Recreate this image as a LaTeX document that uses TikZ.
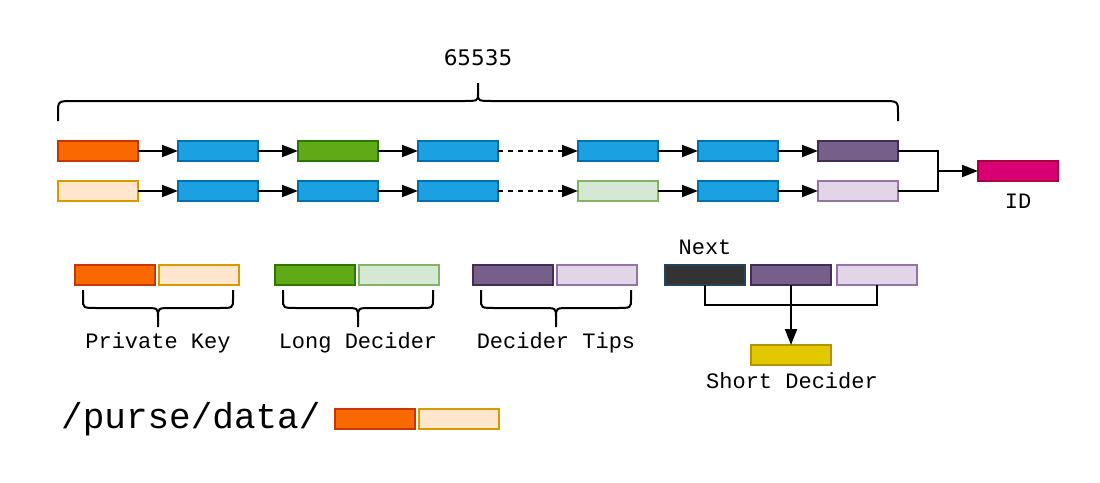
\documentclass[tikz,border=0pt]{standalone}
\usepackage{fontspec}
\setmainfont{Liberation Mono}
\newfontfamily\numfont{DejaVu Sans}
\usetikzlibrary{arrows.meta}
\definecolor{orF}{HTML}{FA6800}\definecolor{orS}{HTML}{C73500}
\definecolor{loF}{HTML}{FFE6CC}\definecolor{loS}{HTML}{D79B00}
\definecolor{blF}{HTML}{1BA1E2}\definecolor{blS}{HTML}{006EAF}
\definecolor{grF}{HTML}{60A917}\definecolor{grS}{HTML}{2D7600}
\definecolor{lgF}{HTML}{D5E8D4}\definecolor{lgS}{HTML}{82B366}
\definecolor{puF}{HTML}{76608A}\definecolor{puS}{HTML}{432D57}
\definecolor{lpF}{HTML}{E1D5E7}\definecolor{lpS}{HTML}{9673A6}
\definecolor{pkF}{HTML}{D80073}\definecolor{pkS}{HTML}{A50040}
\definecolor{dkF}{HTML}{333333}\definecolor{dkS}{HTML}{23445D}
\definecolor{yeF}{HTML}{E3C800}\definecolor{yeS}{HTML}{B09500}
\tikzset{
  cell/.style={draw, line width=2pt, minimum width=80pt, minimum height=20pt, inner sep=0pt, outer sep=0pt},
  orbox/.style={cell, fill=orF, draw=orS},
  lobox/.style={cell, fill=loF, draw=loS},
  blbox/.style={cell, fill=blF, draw=blS},
  grbox/.style={cell, fill=grF, draw=grS},
  lgbox/.style={cell, fill=lgF, draw=lgS},
  pubox/.style={cell, fill=puF, draw=puS},
  lpbox/.style={cell, fill=lpF, draw=lpS},
  pkbox/.style={cell, fill=pkF, draw=pkS},
  dkbox/.style={cell, fill=dkF, draw=dkS},
  yebox/.style={cell, fill=yeF, draw=yeS},
  conn/.style={line width=2pt},
  arr/.style={conn, -{Triangle[length=16pt,width=12pt]}},
  darr/.style={arr, dash pattern=on 5pt off 5pt},
  brace/.style={line width=2pt},
  lbl/.style={font=\fontsize{22}{24}\selectfont, inner sep=0pt},
}
\begin{document}
\begin{tikzpicture}[x=1pt,y=-1pt]
\useasboundingbox (0,0) rectangle (1100,482);
% top row
\node[orbox] (t1) at (98,151) {};
\node[blbox] (t2) at (218,151) {};
\node[grbox] (t3) at (338,151) {};
\node[blbox] (t4) at (458,151) {};
\node[blbox] (t5) at (618,151) {};
\node[blbox] (t6) at (738,151) {};
\node[pubox] (t7) at (858,151) {};
% bottom row
\node[lobox] (b1) at (98,191) {};
\node[blbox] (b2) at (218,191) {};
\node[blbox] (b3) at (338,191) {};
\node[blbox] (b4) at (458,191) {};
\node[lgbox] (b5) at (618,191) {};
\node[blbox] (b6) at (738,191) {};
\node[lpbox] (b7) at (858,191) {};
% ID
\node[pkbox] (id) at (1018,171) {};
\node[lbl] (idl) at (1018,201) {ID};
\coordinate (m) at (938,171);
% arrows
\draw[arr] (t1) -- (t2);
\draw[arr] (t2) -- (t3);
\draw[arr] (t3) -- (t4);
\draw[darr] (t4) -- (t5);
\draw[arr] (t5) -- (t6);
\draw[arr] (t6) -- (t7);
\draw[arr] (b1) -- (b2);
\draw[arr] (b2) -- (b3);
\draw[arr] (b3) -- (b4);
\draw[darr] (b4) -- (b5);
\draw[arr] (b5) -- (b6);
\draw[arr] (b6) -- (b7);
\draw[conn] (t7.east) -| (m);
\draw[conn] (b7.east) -| (m);
\draw[arr] (m) -- (id.west);
% top brace
\node[font=\numfont\fontsize{21.5}{24}\selectfont, inner sep=0pt] (cnt) at (478,58) {65535};
\draw[brace] (58,121) -- (58,113) .. controls (58,101) .. (74,101) -- (462,101)
  .. controls (478,101) .. (478,94) -- (478,83);
\draw[brace] (478,94) .. controls (478,101) .. (494,101) -- (882,101)
  .. controls (898,101) .. (898,113) -- (898,121);
% legend: private key
\node[orbox] (pk1) at (115,275) {};
\node[lobox] (pk2) at (199,275) {};
\node[grbox] (ld1) at (315,275) {};
\node[lgbox] (ld2) at (399,275) {};
\node[pubox] (dt1) at (513,275) {};
\node[lpbox] (dt2) at (597,275) {};
\foreach \c in {158,358,556}{
  \draw[brace] (\c-75,290) -- (\c-75,299) .. controls (\c-75,308) .. (\c-61,308) -- (\c-14,308)
    .. controls (\c,308) .. (\c,317) -- (\c,327);
  \draw[brace] (\c,317) .. controls (\c,308) .. (\c+14,308) -- (\c+61,308)
    .. controls (\c+75,308) .. (\c+75,299) -- (\c+75,290);
}
\node[lbl] (pkl) at (158,343) {Private Key};
\node[lbl] (ldl) at (358,343) {Long Decider};
\node[lbl] (dtl) at (556,343) {Decider Tips};
% next / short decider
\node[dkbox] (n1) at (705,275) {};
\node[pubox] (n2) at (791,275) {};
\node[lpbox] (n3) at (877,275) {};
\node[lbl] (nl) at (705,247) {Next};
\node[yebox] (sd) at (791,355) {};
\node[lbl] (sdl) at (792,381) {Short Decider};
\draw[conn] (n1.south) -- ++(0,20) -| (n3.south);
\draw[arr] (n2.south) -- (sd.north);
% path
\node[font=\fontsize{36}{40}\selectfont, inner sep=0pt, anchor=west] (path) at (61,419) {/purse/data/};
\node[orbox] (pd1) at (375,419) {};
\node[lobox] (pd2) at (459,419) {};
\end{tikzpicture}
\end{document}
